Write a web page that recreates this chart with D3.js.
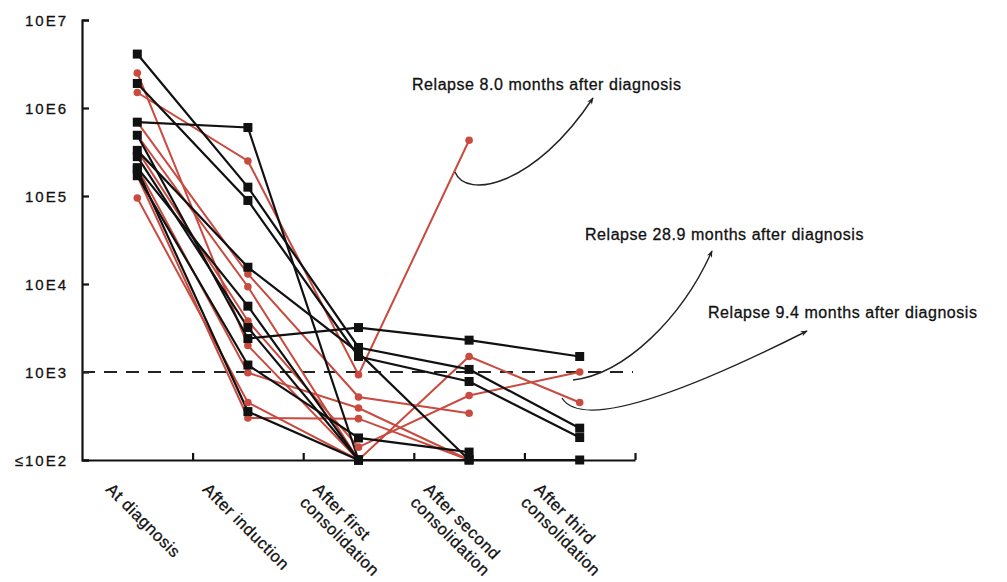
<!DOCTYPE html>
<html>
<head>
<meta charset="utf-8">
<script src="https://cdn.jsdelivr.net/npm/d3@7"></script>
<style>
  html, body { margin: 0; padding: 0; background: #fff; }
  svg { display: block; }
  text { font-family: "Liberation Sans", Arial, Helvetica, sans-serif; fill: #111; stroke: #111; stroke-width: 0.3px; }
</style>
</head>
<body>
<svg id="chart" width="1007" height="582"></svg>
<script>
// ---- data (MRD copies; 100 = "≤10E2" floor) ----
const categories = ["At diagnosis", "After induction", "After first consolidation",
                    "After second consolidation", "After third consolidation"];
const categoryLines = [["At diagnosis"], ["After induction"], ["After first", "consolidation"],
                       ["After second", "consolidation"], ["After third", "consolidation"]];
const yTickValues = [100, 1e3, 1e4, 1e5, 1e6, 1e7];
const yTickLabels = ["≤10E2", "10E3", "10E4", "10E5", "10E6", "10E7"];
const threshold = 1e3;

// black patients (squares)
const blackSeries = [
  [4.1e6, 1.26e5, 1.9e3, 1.07e3, 230],
  [1.9e6, 8.9e4, 1.5e3, 780, 180],
  [6.9e5, 6.0e5, 100],
  [4.9e5, 2.4e3, 3.2e3, 2.3e3, 1.5e3],
  [3.3e5, 1.55e4, 1.66e3, 100, 100],
  [2.1e5, 5.6e3, 100, 100],
  [1.7e5, 1.2e3, 178, 123],
  [2.0e5, 355, 100],
  [2.8e5, 3.2e3, 100]
];
// red patients (dots)
const redSeries = [
  [2.5e6, 2.0e3, 100, 100],
  [1.5e6, 2.5e5, 930, 4.3e5],
  [6.9e5, 1.3e4, 520, 340],
  [4.9e5, 9.3e3, 100, 1.5e3, 450],
  [3.3e5, 3.8e3, 140, 540, 1.0e3],
  [2.1e5, 980, 390, 100],
  [9.5e4, 450, 100, 100],
  [1.7e5, 300, 295, 100]
];
const annotations = [
  "Relapse 8.0 months after diagnosis",
  "Relapse 28.9 months after diagnosis",
  "Relapse 9.4 months after diagnosis"
];

// ---- drawing ----
const svg = d3.select("#chart");
const RED = "#c94a3f", BLACK = "#111";
const mLeft = 82, mRight = 635, mTop = 20, mBottom = 460;

const x = d3.scaleBand().domain(categories).range([mLeft, mRight]);
const y = d3.scaleLog().domain([100, 1e7]).range([mBottom, mTop]);
const cx = i => x(categories[i]) + x.bandwidth() / 2;

// arrow marker
svg.append("defs").append("marker")
  .attr("id", "arr").attr("viewBox", "0 0 10 10").attr("refX", 9).attr("refY", 5)
  .attr("markerWidth", 7).attr("markerHeight", 7).attr("orient", "auto")
  .attr("markerUnits", "userSpaceOnUse")
  .append("path").attr("d", "M0,1 L10,5 L0,9 L3,5 Z").attr("fill", "#222");

// y axis
const yAxis = d3.axisLeft(y).tickValues(yTickValues)
  .tickFormat(d => yTickLabels[yTickValues.indexOf(d)])
  .tickSizeInner(-7).tickSizeOuter(-7).tickPadding(14);
const gy = svg.append("g").attr("transform", `translate(${mLeft},0)`).call(yAxis);
gy.selectAll("path, line").attr("stroke", BLACK).attr("stroke-width", 2.2);
gy.selectAll("text").style("font-size", "15px").style("letter-spacing", "2px")
  .attr("fill", BLACK).attr("dy", "0.36em");

// x axis (ticks at band boundaries)
const bScale = d3.scaleLinear().domain([0, categories.length]).range([mLeft, mRight]);
const xAxis = d3.axisBottom(bScale).tickValues(d3.range(1, categories.length + 1))
  .tickFormat("").tickSizeInner(-7).tickSizeOuter(0);
const gx = svg.append("g").attr("transform", `translate(0,${mBottom})`).call(xAxis);
gx.selectAll("path, line").attr("stroke", BLACK).attr("stroke-width", 2.2);

// category labels, rotated 45°
categoryLines.forEach((lines, i) => {
  const shift = lines.length === 1 && i === 0 ? 14 : 0;
  const t = svg.append("text")
    .attr("transform", `translate(${cx(i) - 38 + shift},${mBottom + 22}) rotate(45)`)
    .style("font-size", "16.5px").style("letter-spacing", "0.6px");
  lines.forEach((ln, j) => {
    t.append("tspan").attr("x", 0).attr("dy", j === 0 ? "0.7em" : "1.15em").text(ln);
  });
});

// threshold dashed line
svg.append("line")
  .attr("x1", mLeft).attr("x2", mRight - 2)
  .attr("y1", y(threshold)).attr("y2", y(threshold))
  .attr("stroke", "#222").attr("stroke-width", 2.2).attr("stroke-dasharray", "13,9");

const line = d3.line().x((d, i) => cx(i)).y(d => y(d));

// red lines
svg.append("g").selectAll("path").data(redSeries).join("path")
  .attr("d", line).attr("fill", "none").attr("stroke", RED).attr("stroke-width", 2);
// black lines
svg.append("g").selectAll("path").data(blackSeries).join("path")
  .attr("d", line).attr("fill", "none").attr("stroke", BLACK).attr("stroke-width", 2.2);

// markers
const redPts = redSeries.flatMap(s => s.map((v, i) => ({ i, v })));
const blackPts = blackSeries.flatMap(s => s.map((v, i) => ({ i, v })));
svg.append("g").selectAll("circle").data(redPts).join("circle")
  .attr("cx", d => cx(d.i)).attr("cy", d => y(d.v)).attr("r", 3.8).attr("fill", RED);
const sq = 9;
svg.append("g").selectAll("rect").data(blackPts).join("rect")
  .attr("x", d => cx(d.i) - sq / 2).attr("y", d => y(d.v) - sq / 2)
  .attr("width", sq).attr("height", sq).attr("fill", BLACK);

// annotations
const annPos = [[412, 90], [585, 240], [708, 318]];
annotations.forEach((a, k) => {
  svg.append("text").attr("x", annPos[k][0]).attr("y", annPos[k][1])
    .style("font-size", "16px").style("letter-spacing", "0.55px").text(a);
});
const arrows = [
  "M455,172 C466,200 535,186 593,98",
  "M573,380 C625,374 682,318 712,251",
  "M562,398 C578,424 650,410 807,331"
];
svg.append("g").selectAll("path").data(arrows).join("path")
  .attr("d", d => d).attr("fill", "none").attr("stroke", "#222").attr("stroke-width", 1.4)
  .attr("marker-end", "url(#arr)");
</script>
</body>
</html>
